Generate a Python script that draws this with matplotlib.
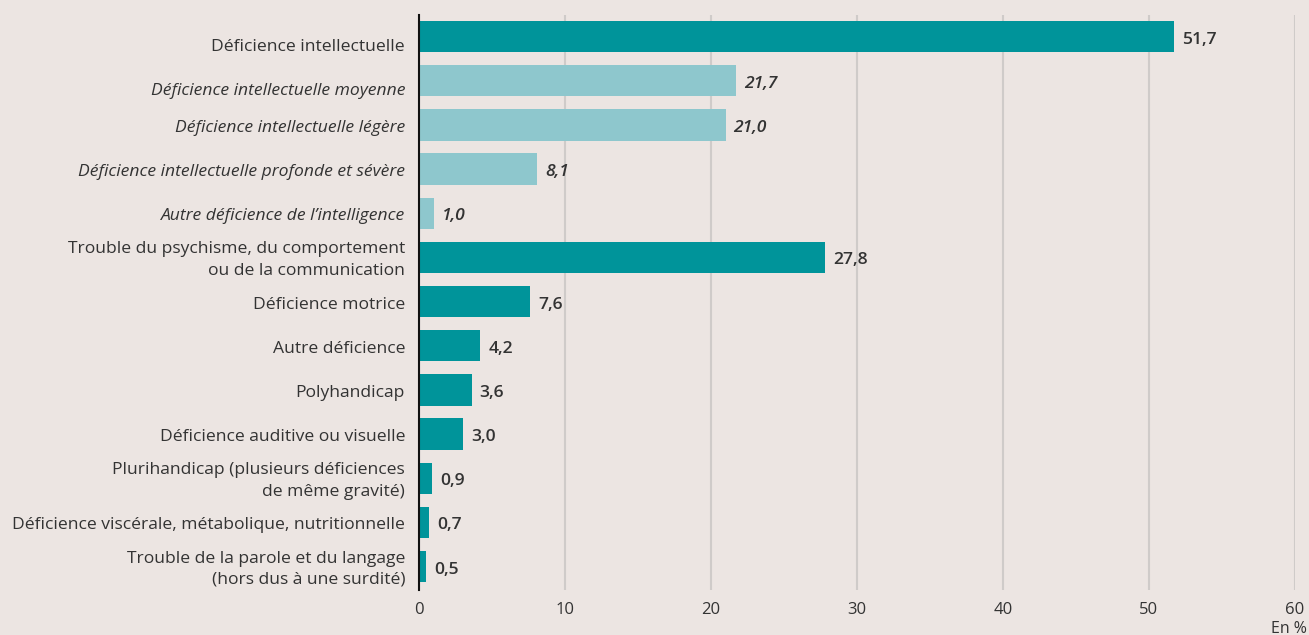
import matplotlib.pyplot as plt
import matplotlib.transforms as mtransforms

plt.rcParams['font.family'] = ['Open Sans', 'DejaVu Sans']

categories = [
    "Déficience intellectuelle",
    "Déficience intellectuelle moyenne",
    "Déficience intellectuelle légère",
    "Déficience intellectuelle profonde et sévère",
    "Autre déficience de l\u2019intelligence",
    "Trouble du psychisme, du comportement\nou de la communication",
    "Déficience motrice",
    "Autre déficience",
    "Polyhandicap",
    "Déficience auditive ou visuelle",
    "Plurihandicap (plusieurs déficiences\nde même gravité)",
    "Déficience viscérale, métabolique, nutritionnelle",
    "Trouble de la parole et du langage\n(hors dus à une surdité)",
]
values = [51.7, 21.7, 21.0, 8.1, 1.0, 27.8, 7.6, 4.2, 3.6, 3.0, 0.9, 0.7, 0.5]
is_sub = [False, True, True, True, True, False, False, False, False, False, False, False, False]
x_ticks = [0, 10, 20, 30, 40, 50, 60]

BG = "#ECE5E2"
DARK = "#00949A"
LIGHT = "#8EC7CD"
TEXT = "#333333"
GRID = "#CFCBC9"
FS = 12.6

fig = plt.figure(figsize=(13.09, 6.35), dpi=100, facecolor=BG)
ax = fig.add_axes([419 / 1309, 45 / 635, 876 / 1309, 575 / 635], facecolor=BG)

pos = list(range(len(categories)))
colors = [LIGHT if s else DARK for s in is_sub]
ax.barh(pos, values, height=0.71, color=colors, zorder=3)

ax.set_xlim(0, 60)
ax.set_ylim(len(categories) - 0.47, -0.49)
ax.set_xticks(x_ticks)
ax.set_xticklabels([str(t) for t in x_ticks], fontsize=12, color=TEXT)
ax.tick_params(axis='x', length=0, pad=9)
ax.tick_params(axis='y', length=0, pad=10)
ax.grid(axis='x', color=GRID, linewidth=1.5, zorder=0)

for side in ['top', 'right', 'bottom']:
    ax.spines[side].set_visible(False)
ax.spines['left'].set_color('#111111')
ax.spines['left'].set_linewidth(1.5)
ax.spines['left'].set_zorder(4)

ax.set_yticks(pos)
ax.set_yticklabels(categories, fontsize=FS, color=TEXT, linespacing=1.45)
# in the original the first two labels sit a bit below their bars
big_shift = mtransforms.ScaledTranslation(0, -8 / 100, fig.dpi_scale_trans)
small_shift = mtransforms.ScaledTranslation(0, -1 / 100, fig.dpi_scale_trans)
multi_shift = mtransforms.ScaledTranslation(0, 2 / 100, fig.dpi_scale_trans)
for i, (lbl, s, c) in enumerate(zip(ax.get_yticklabels(), is_sub, categories)):
    if i < 2:
        tr = big_shift
    elif "\n" in c:
        tr = multi_shift
    else:
        tr = small_shift
    lbl.set_transform(lbl.get_transform() + tr)
    if s:
        lbl.set_fontstyle('italic')

for p, v, s in zip(pos, values, is_sub):
    txt = f"{v:.1f}".replace('.', ',')
    ax.annotate(txt, (v, p), xytext=(8, -3), textcoords='offset pixels',
                va='center', ha='left', fontsize=FS, color=TEXT, fontweight='semibold',
                fontstyle='italic' if s else 'normal')

fig.text(1307 / 1309, 2 / 635, "En %", ha='right', va='baseline', fontsize=11.5, color=TEXT)

fig.savefig("out.png", dpi=100, facecolor=BG)
